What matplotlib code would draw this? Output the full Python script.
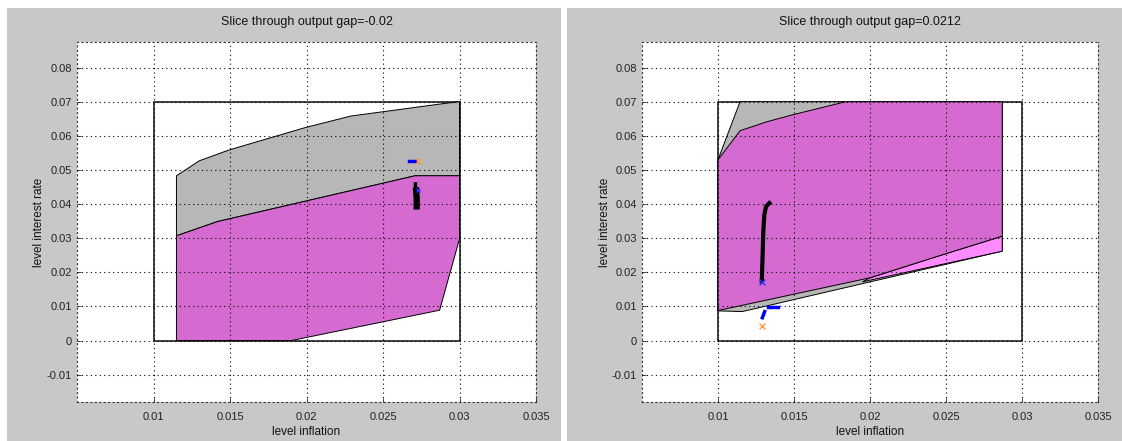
import matplotlib
matplotlib.use("Agg")
import matplotlib.pyplot as plt
from matplotlib.patches import Polygon, Rectangle

plt.rcParams['font.family'] = ['Liberation Sans', 'DejaVu Sans']

# ---- data ----
titles = ['Slice through output gap=-0.02', 'Slice through output gap=0.0212']
xticks = [0.01, 0.015, 0.02, 0.025, 0.03, 0.035]
yticks = [-0.01, 0, 0.01, 0.02, 0.03, 0.04, 0.05, 0.06, 0.07, 0.08]

# left slice
left_gray = [(0.0115, 0.0483), (0.0130, 0.0527), (0.0149, 0.0558), (0.0199, 0.0624),
             (0.0229, 0.0658), (0.0292, 0.0696), (0.0300, 0.0700), (0.0300, 0.0483),
             (0.0271, 0.0483), (0.0142, 0.0349), (0.0115, 0.0307)]
left_magenta = [(0.0115, 0.0307), (0.0142, 0.0349), (0.0271, 0.0483), (0.0300, 0.0483),
                (0.0300, 0.0298), (0.0287, 0.0089), (0.0190, 0.0), (0.0115, 0.0)]
left_path_x = [0.02712, 0.02712, 0.02716]
left_path_y = [0.0459, 0.0448, 0.0440]
left_path2_x = [0.02716, 0.02720, 0.02720]
left_path2_y = [0.0440, 0.0420, 0.0393]
left_blue_x = [0.0267, 0.0272]
left_blue_y = [0.0526, 0.0526]
left_orange = (0.0273, 0.0527)
left_bluex = (0.02728, 0.0440)

# right slice
right_gray = [(0.0100, 0.0087), (0.0100, 0.0530), (0.01145, 0.0700), (0.0287, 0.0700),
              (0.0287, 0.0262), (0.0116, 0.0085)]
right_pink = [(0.0195, 0.0172), (0.0287, 0.0262), (0.0287, 0.0306), (0.0248, 0.0252),
              (0.0200, 0.0184)]
right_magenta = [(0.0100, 0.0088), (0.0100, 0.0530), (0.01145, 0.0615), (0.0132, 0.0641),
                 (0.01485, 0.0661), (0.0184, 0.0700), (0.0287, 0.0700), (0.0287, 0.0306),
                 (0.0248, 0.0252), (0.0200, 0.0184)]
right_path_x = [0.01288, 0.01294, 0.01298, 0.01305, 0.01316, 0.01338]
right_path_y = [0.0174, 0.0257, 0.0320, 0.0369, 0.0393, 0.0403]
right_blue_x = [0.01330, 0.01397]
right_blue_y = [0.0099, 0.0099]
right_blue2_x = [0.01307, 0.01292]
right_blue2_y = [0.0085, 0.0067]
right_orange = (0.01288, 0.0042)
right_bluex = (0.01288, 0.0172)

box_x = [0.01, 0.03]
box_y = [0.0, 0.07]

GRAY = '#b7b7b7'
MAGENTA = '#d56bd0'
PINK = '#ff8cff'
BG = '#c8c8c8'
DOTS = (0, (1, 3))

fig = plt.figure(figsize=(11.22, 4.41), dpi=100, facecolor='white')
# two grey window panels
fig.patches.append(Rectangle((7 / 1122, 0), 554 / 1122, 433 / 441, transform=fig.transFigure,
                             facecolor=BG, edgecolor='none', zorder=-1))
fig.patches.append(Rectangle((567 / 1122, 0), 555 / 1122, 433 / 441, transform=fig.transFigure,
                             facecolor=BG, edgecolor='none', zorder=-1))

ax1 = fig.add_axes([77 / 1122, 39 / 441, 459 / 1122, 360 / 441])
ax2 = fig.add_axes([642 / 1122, 39 / 441, 456 / 1122, 360 / 441])


def style(ax, title):
    ax.set_xlim(0.005, 0.035)
    ax.set_ylim(-0.018, 0.0875)
    ax.set_xticks(xticks)
    ax.set_xticklabels([f'{t:g}' for t in xticks])
    ax.set_yticks(yticks)
    ax.set_yticklabels([f'{t:g}' for t in yticks])
    ax.tick_params(direction='in', length=3, width=0.6, labelsize=8, colors='#222222')
    ax.tick_params(axis='x', pad=7)
    ax.grid(True, linestyle=DOTS, color='black', linewidth=0.8)
    ax.set_axisbelow(False)
    for s in ax.spines.values():
        s.set_linestyle(DOTS)
        s.set_linewidth(0.8)
        s.set_color('#333333')
    ax.set_title(title, fontsize=9, color='#111111', pad=12)
    ax.set_xlabel('level inflation', fontsize=8.5, color='#111111', labelpad=3)
    ax.set_ylabel('level interest rate', fontsize=8.5, color='#111111', labelpad=1)
    ax.add_patch(Rectangle((box_x[0], box_y[0]), box_x[1] - box_x[0], box_y[1] - box_y[0],
                           fill=False, edgecolor='#222222', linewidth=1.2, zorder=0.5))


style(ax1, titles[0])
style(ax2, titles[1])

# left panel
ax1.add_patch(Polygon(left_gray, closed=True, facecolor=GRAY, edgecolor='black', linewidth=0.7, zorder=1))
ax1.add_patch(Polygon(left_magenta, closed=True, facecolor=MAGENTA, edgecolor='black', linewidth=0.7, zorder=1.1))
ax1.plot(left_path_x, left_path_y, color='black', linewidth=2.5, zorder=3)
ax1.plot(left_path2_x, left_path2_y, color='black', linewidth=4.5, zorder=3)
ax1.plot(left_blue_x, left_blue_y, color='blue', linewidth=2.5, zorder=3)
ax1.plot(*left_orange, marker='x', color='#ffa040', markersize=4, markeredgewidth=1, zorder=3)
ax1.plot(*left_bluex, marker='x', color='#3030ff', markersize=3, markeredgewidth=1, zorder=3.1)

# right panel
ax2.add_patch(Polygon(right_gray, closed=True, facecolor=GRAY, edgecolor='black', linewidth=0.7, zorder=1))
ax2.add_patch(Polygon(right_pink, closed=True, facecolor=PINK, edgecolor='black', linewidth=0.7, zorder=1.05))
ax2.add_patch(Polygon(right_magenta, closed=True, facecolor=MAGENTA, edgecolor='black', linewidth=0.7, zorder=1.1))
ax2.plot(right_path_x, right_path_y, color='black', linewidth=3, zorder=3)
ax2.plot(right_blue_x, right_blue_y, color='blue', linewidth=2.5, zorder=3)
ax2.plot(right_blue2_x, right_blue2_y, color='blue', linewidth=2.5, zorder=3)
ax2.plot(*right_orange, marker='x', color='#ffa040', markersize=5, markeredgewidth=1, zorder=3)
ax2.plot(*right_bluex, marker='x', color='#3030ff', markersize=5, markeredgewidth=1, zorder=3.1)

fig.savefig('out.png', dpi=100, facecolor=fig.get_facecolor())
